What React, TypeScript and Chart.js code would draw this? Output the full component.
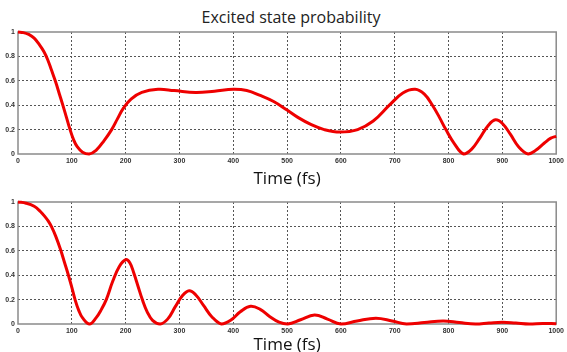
import React, { useEffect, useRef } from "react";
import { Chart, registerables } from "chart.js";

Chart.register(...registerables);

const TITLE = "Excited state probability";
const X_LABEL = "Time (fs)";

const TOP_TIME = [
  0, 10, 20, 30, 40, 48, 55, 62, 70, 77, 84, 90, 96, 103, 110, 120, 132, 145, 160, 174,
  185, 195, 210, 230, 260, 290, 330, 365, 400, 425, 450, 475, 500, 520, 545, 569, 598, 631,
  660, 690, 715, 738, 755, 770, 783, 795, 810, 828, 843, 858, 873, 887, 900, 915, 930, 948,
  962, 978, 990, 1000,
];
const TOP_PROB = [
  1.0, 0.995, 0.98, 0.95, 0.895, 0.84, 0.775, 0.69, 0.59, 0.49, 0.39, 0.3, 0.21, 0.12, 0.06,
  0.015, 0.0, 0.03, 0.11, 0.2, 0.29, 0.37, 0.45, 0.505, 0.53, 0.52, 0.505, 0.515, 0.53, 0.52,
  0.48, 0.43, 0.36, 0.3, 0.24, 0.2, 0.18, 0.2, 0.27, 0.4, 0.5, 0.53, 0.49, 0.4, 0.3, 0.2, 0.09,
  0.0, 0.04, 0.13, 0.23, 0.28, 0.25, 0.16, 0.06, 0.0, 0.03, 0.09, 0.13, 0.145,
];

const BOTTOM_TIME = [
  0, 15, 30, 42, 50, 56, 62, 70, 79, 86, 93, 100, 106, 113, 120, 133, 145, 155, 164, 176, 188,
  200, 208, 215, 223, 231, 240, 250, 264, 278, 292, 305, 318, 330, 345, 360, 378, 395, 413,
  432, 450, 468, 485, 501, 525, 551, 575, 600, 630, 665, 695, 722, 755, 790, 820, 850, 875,
  900, 925, 950, 975, 1000,
];
const BOTTOM_PROB = [
  1.0, 0.99, 0.965, 0.92, 0.88, 0.845, 0.8, 0.72, 0.61, 0.51, 0.41, 0.3, 0.2, 0.11, 0.05, 0.0,
  0.05, 0.12, 0.2, 0.35, 0.47, 0.527, 0.5, 0.42, 0.31, 0.2, 0.1, 0.03, 0.0, 0.04, 0.14, 0.23,
  0.273, 0.24, 0.15, 0.06, 0.0, 0.03, 0.1, 0.145, 0.12, 0.06, 0.015, 0.0, 0.035, 0.074, 0.04,
  0.0, 0.025, 0.047, 0.025, 0.0, 0.012, 0.025, 0.012, 0.0, 0.008, 0.015, 0.008, 0.0, 0.005,
  0.003,
];

const X_MIN = 0;
const X_MAX = 1000;
const X_STEP = 100;
const Y_MIN = 0;
const Y_MAX = 1;
const Y_STEP = 0.2;

const framePlugin = {
  id: "frame",
  beforeDatasetsDraw(chart: any) {
    const { ctx, chartArea } = chart;
    const { left, top, right, bottom } = chartArea;
    ctx.save();
    ctx.strokeStyle = "#8a8a8a";
    ctx.lineWidth = 1.5;
    ctx.strokeRect(left, top, right - left, bottom - top);
    ctx.restore();
  },
};

const gridColor = (c: any) => {
  const n = c.scale && c.scale.ticks ? c.scale.ticks.length : 0;
  if (c.index === 0 || c.index === n - 1) return "rgba(0,0,0,0)";
  return "#555";
};

const fmt = (v: any) => String(Math.round(Number(v) * 10) / 10);

type PanelProps = {
  time: number[];
  prob: number[];
  width: number;
  height: number;
  padTop: number;
  padRight: number;
  axisHeight: number;
  titlePadBottom: number;
};

function Panel({ time, prob, width, height, padTop, padRight, axisHeight, titlePadBottom }: PanelProps) {
  const ref = useRef<HTMLCanvasElement | null>(null);
  useEffect(() => {
    if (!ref.current) return;
    const tickFont = { family: "'Liberation Sans', Arial, sans-serif", size: 7, weight: "bold" as const };
    const chart = new Chart(ref.current, {
      type: "line",
      data: {
        datasets: [
          {
            data: time.map((t, i) => ({ x: t, y: prob[i] })),
            borderColor: "#ee0000",
            borderWidth: 3,
            pointRadius: 0,
            tension: 0.4,
            fill: false,
            clip: 6,
          } as any,
        ],
      },
      options: {
        responsive: false,
        animation: false,
        devicePixelRatio: 1,
        layout: { padding: { top: padTop, right: padRight, left: 0, bottom: 0 } },
        plugins: { legend: { display: false }, tooltip: { enabled: false }, title: { display: false } },
        scales: {
          x: {
            type: "linear",
            min: X_MIN,
            max: X_MAX,
            border: { display: false, dash: [2, 2] },
            grid: { color: gridColor, drawTicks: false, lineWidth: 1 },
            ticks: {
              stepSize: X_STEP,
              maxRotation: 0,
              autoSkip: false,
              padding: 3,
              color: "#333",
              font: tickFont,
              callback: (v: any) => fmt(v),
            },
            title: {
              display: true,
              text: X_LABEL,
              color: "#111",
              font: { family: "'Open Sans', sans-serif", size: 17 },
              padding: { top: 0, bottom: titlePadBottom },
            },
            afterFit(scale: any) {
              scale.height = axisHeight;
            },
          } as any,
          y: {
            type: "linear",
            min: Y_MIN,
            max: Y_MAX,
            border: { display: false, dash: [2, 2] },
            grid: { color: gridColor, drawTicks: false, lineWidth: 1 },
            ticks: {
              stepSize: Y_STEP,
              padding: 3,
              color: "#333",
              font: tickFont,
              callback: (v: any) => fmt(v),
            },
            afterFit(scale: any) {
              scale.width = 18;
            },
          } as any,
        },
      },
      plugins: [framePlugin],
    });
    return () => chart.destroy();
  }, [time, prob, width, height, padTop, padRight, axisHeight, titlePadBottom]);
  return <canvas ref={ref} width={width} height={height} style={{ display: "block", width, height }} />;
}

export default function App() {
  return (
    <div
      style={{
        position: "fixed",
        left: 0,
        top: 0,
        width: 567,
        height: 352,
        overflow: "hidden",
        background: "#fff",
      }}
    >
      <div
        style={{
          position: "absolute",
          left: 191,
          top: 6,
          width: 200,
          textAlign: "center",
          whiteSpace: "nowrap",
          fontFamily: "'Open Sans', sans-serif",
          fontSize: 16,
          color: "#222",
        }}
      >
        {TITLE}
      </div>
      <div style={{ position: "absolute", left: 0, top: 0 }}>
        <Panel time={TOP_TIME} prob={TOP_PROB} width={567} height={190} padTop={32} padRight={7} axisHeight={36} titlePadBottom={1} />
      </div>
      <div style={{ position: "absolute", left: 0, top: 190 }}>
        <Panel time={BOTTOM_TIME} prob={BOTTOM_PROB} width={567} height={172} padTop={12} padRight={7} axisHeight={38} titlePadBottom={7} />
      </div>
    </div>
  );
}
